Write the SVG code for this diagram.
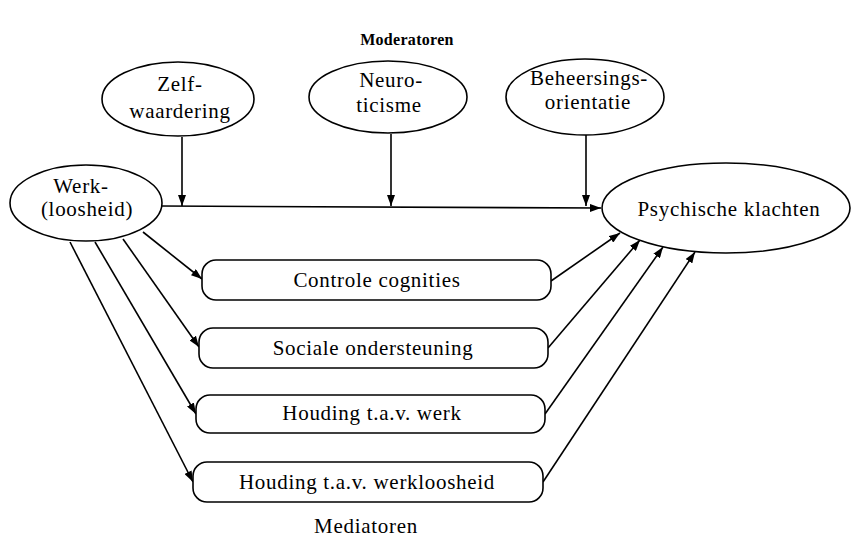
<svg xmlns="http://www.w3.org/2000/svg" width="852" height="539" viewBox="0 0 852 539">
<style>
text{font-family:"Liberation Serif",serif;font-size:21px;fill:#000;text-anchor:middle;letter-spacing:0.7px}
.t{font-weight:bold;font-size:16px;letter-spacing:0.3px}
.n{fill:#fff;stroke:#000;stroke-width:1.6}
.c{fill:none;stroke:#000;stroke-width:1.6}
</style>
<defs>
<marker id="ah" viewBox="0 0 11 8" refX="11" refY="4" markerWidth="11" markerHeight="8" markerUnits="userSpaceOnUse" orient="auto">
<path d="M0,0 L11,4 L0,8 Z" fill="#000"/>
</marker>
</defs>
<rect width="852" height="539" fill="#fff"/>
<text class="t" x="407" y="45">Moderatoren</text>
<g id="connectors">
<path class="c" d="M160,206 L601,208" marker-end="url(#ah)"/>
<path class="c" d="M182,137 L182,206" marker-end="url(#ah)"/>
<path class="c" d="M391,134 L391,206" marker-end="url(#ah)"/>
<path class="c" d="M586,135 L586,206" marker-end="url(#ah)"/>
<path class="c" d="M143,232 L202,279" marker-end="url(#ah)"/>
<path class="c" d="M123,239 L199,347" marker-end="url(#ah)"/>
<path class="c" d="M95,242 L196,414" marker-end="url(#ah)"/>
<path class="c" d="M70,242 L193,482" marker-end="url(#ah)"/>
<path class="c" d="M551,281 L620,233" marker-end="url(#ah)"/>
<path class="c" d="M548,348 L640,240" marker-end="url(#ah)"/>
<path class="c" d="M545,414 L663,247" marker-end="url(#ah)"/>
<path class="c" d="M543,482 L695,252" marker-end="url(#ah)"/>
</g>
<g id="zelfwaardering">
<ellipse class="n" cx="178" cy="99" rx="76" ry="37"/>
<text x="180" y="91">Zelf-</text>
<text x="180" y="118">waardering</text>
</g>
<g id="neuroticisme">
<ellipse class="n" cx="388" cy="97" rx="79" ry="36"/>
<text x="391" y="87">Neuro-</text>
<text x="389" y="112">ticisme</text>
</g>
<g id="beheersingsorientatie">
<ellipse class="n" cx="585" cy="97" rx="79" ry="38"/>
<text x="589" y="85">Beheersings-</text>
<text x="588" y="109">orientatie</text>
</g>
<g id="werkloosheid">
<ellipse class="n" cx="86" cy="203" rx="76" ry="38"/>
<text x="81" y="193">Werk-</text>
<text x="87" y="216">(loosheid)</text>
</g>
<g id="psychische">
<ellipse class="n" cx="726" cy="208" rx="124" ry="45"/>
<text x="729" y="216">Psychische klachten</text>
</g>
<g id="controle">
<rect class="n" x="202" y="260" width="349" height="40" rx="14"/>
<text x="377" y="287">Controle cognities</text>
</g>
<g id="sociale">
<rect class="n" x="199" y="328" width="349" height="40" rx="14"/>
<text x="373" y="355">Sociale ondersteuning</text>
</g>
<g id="houdingwerk">
<rect class="n" x="196" y="395" width="349" height="38" rx="14"/>
<text x="372" y="420">Houding t.a.v. werk</text>
</g>
<g id="houdingwerkloosheid">
<rect class="n" x="193" y="462" width="350" height="40" rx="14"/>
<text x="367" y="489">Houding t.a.v. werkloosheid</text>
</g>
<text x="366" y="533">Mediatoren</text>
</svg>
